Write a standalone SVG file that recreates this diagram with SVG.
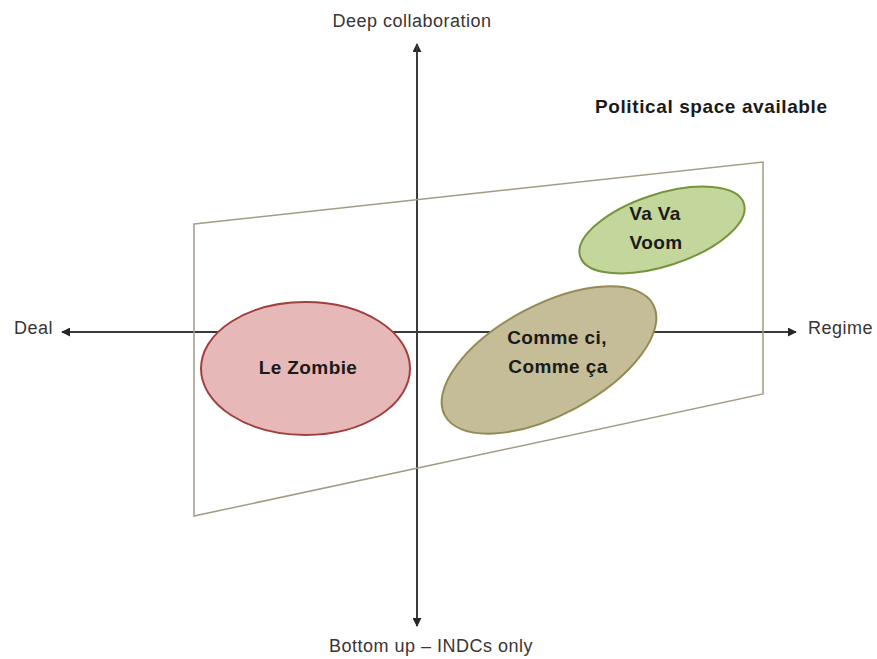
<svg xmlns="http://www.w3.org/2000/svg" width="877" height="659" viewBox="0 0 877 659">
<defs>
<marker id="arr" viewBox="0 0 10 10" refX="9" refY="5" markerWidth="9" markerHeight="9" markerUnits="userSpaceOnUse" orient="auto">
<path d="M0,0 L10,5 L0,10 z" fill="#262626"/>
</marker>
<style>
.axis{stroke:#3a3a3a;stroke-width:1.8;fill:none}
.lbl{font-family:"Liberation Sans",Arial,sans-serif;font-size:18px;letter-spacing:0.5px;fill:#3a3434}
.node{font-family:"Liberation Sans",Arial,sans-serif;font-size:19px;letter-spacing:0.4px;font-weight:bold;fill:#1a1a1a;text-anchor:middle}
</style>
</defs>
<rect width="877" height="659" fill="#ffffff"/>
<g id="connectors">
<line class="axis" x1="417" y1="620" x2="417" y2="44" marker-end="url(#arr)"/>
<line class="axis" x1="417" y1="44" x2="417" y2="626" marker-end="url(#arr)"/>
<line class="axis" x1="417" y1="332" x2="62" y2="332" marker-end="url(#arr)"/>
<line class="axis" x1="417" y1="332" x2="796" y2="332" marker-end="url(#arr)"/>
</g>
<g id="political-space">
<polygon points="194,224 763,162 763,394 194,516" fill="none" stroke="#a39c84" stroke-width="1.5"/>
<text x="595" y="113" font-family="'Liberation Sans',Arial,sans-serif" font-size="19" letter-spacing="0.6" font-weight="bold" fill="#1a1a1a">Political space available</text>
</g>
<g id="le-zombie">
<ellipse cx="305.5" cy="368.5" rx="104.5" ry="66.5" fill="#e6b9b8" stroke="#a0403e" stroke-width="2"/>
<text class="node" x="308" y="374">Le Zombie</text>
</g>
<g id="comme-ci">
<ellipse cx="549" cy="360" rx="118" ry="55" transform="rotate(-28 549 360)" fill="#c4bd97" stroke="#948a54" stroke-width="2"/>
<text class="node" x="557" y="344">Comme ci,</text>
<text class="node" x="558" y="373">Comme ça</text>
</g>
<g id="va-va-voom">
<ellipse cx="662" cy="230" rx="86" ry="36" transform="rotate(-18 662 230)" fill="#c3d69b" stroke="#77933c" stroke-width="2"/>
<text class="node" x="655" y="220">Va Va</text>
<text class="node" x="656" y="249">Voom</text>
</g>
<g id="labels">
<text class="lbl" x="412" y="27" text-anchor="middle">Deep collaboration</text>
<text class="lbl" x="14" y="334">Deal</text>
<text class="lbl" x="808" y="334">Regime</text>
<text class="lbl" x="431" y="652" text-anchor="middle">Bottom up – INDCs only</text>
</g>
</svg>
